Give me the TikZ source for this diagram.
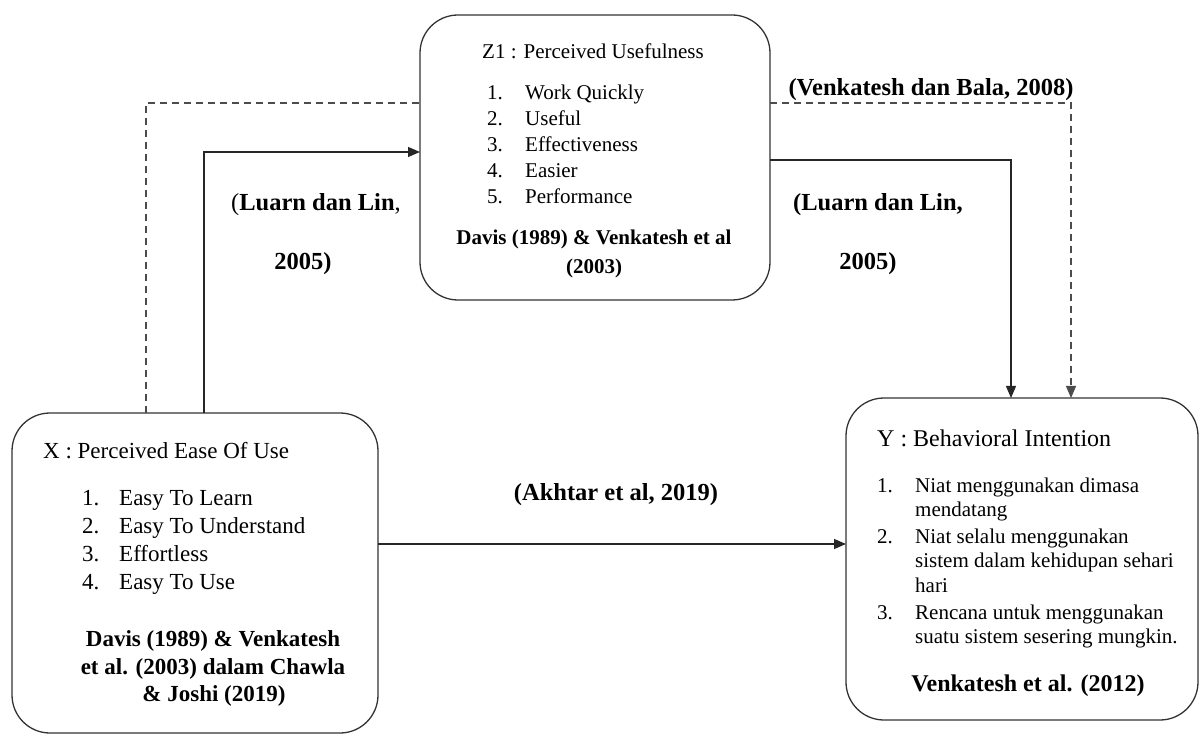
\documentclass[tikz,border=0pt]{standalone}
\usepackage{fontspec}
\setmainfont{Liberation Serif}
\usetikzlibrary{arrows.meta}
\begin{document}
\begin{tikzpicture}[x=1pt,y=-1pt,
  box/.style={draw=black!80, line width=1.3pt, rounded corners=38pt, inner sep=0pt, outer sep=0pt},
  conn/.style={draw=black!85, line width=1.2pt},
  arr/.style={-{Triangle[length=12pt,width=10pt]}},
  dline/.style={draw=black!70, line width=1.1pt, dash pattern=on 7pt off 5pt},
  tl/.style={inner sep=0pt, anchor=base west},
  tc/.style={inner sep=0pt, anchor=base},
  fa/.style={font=\fontsize{21}{25}\selectfont},
  fb/.style={font=\fontsize{23}{27}\selectfont},
  fc/.style={font=\fontsize{24}{28}\selectfont},
  lab/.style={inner sep=0pt, anchor=base, font=\fontsize{24.5}{28}\selectfont\bfseries}
]
\useasboundingbox (0,0) rectangle (1200,735);

% boxes
\node[box, minimum width=350pt, minimum height=285pt] (Z) at (595,157.5) {};
\node[box, minimum width=366pt, minimum height=320pt] (X) at (195,573) {};
\node[box, minimum width=352pt, minimum height=322pt] (Y) at (1022,559) {};

% Z1 texts
\node[tc,fa] (zt) at (593,59) {Z1 : Perceived Usefulness};
\node[tl,fa] (zn1) at (487,100) {1.};
\node[tl,fa] (zi1) at (525,100) {Work Quickly};
\node[tl,fa] (zn2) at (487,126) {2.};
\node[tl,fa] (zi2) at (525,126) {Useful};
\node[tl,fa] (zn3) at (487,152) {3.};
\node[tl,fa] (zi3) at (525,152) {Effectiveness};
\node[tl,fa] (zn4) at (487,178) {4.};
\node[tl,fa] (zi4) at (525,178) {Easier};
\node[tl,fa] (zn5) at (487,204) {5.};
\node[tl,fa] (zi5) at (525,204) {Performance};
\node[tc,fa,font=\fontsize{21}{25}\selectfont\bfseries] (zc1) at (594,245) {Davis (1989) \& Venkatesh et al};
\node[tc,fa,font=\fontsize{21}{25}\selectfont\bfseries] (zc2) at (594,274) {(2003)};

% X texts
\node[tl,fb] (xt) at (43,458) {X : Perceived Ease Of Use};
\node[tl,fb] (xn1) at (82,505) {1.};
\node[tl,fb] (xi1) at (119,505) {Easy To Learn};
\node[tl,fb] (xn2) at (82,533) {2.};
\node[tl,fb] (xi2) at (119,533) {Easy To Understand};
\node[tl,fb] (xn3) at (82,561) {3.};
\node[tl,fb] (xi3) at (119,561) {Effortless};
\node[tl,fb] (xn4) at (82,589) {4.};
\node[tl,fb] (xi4) at (119,589) {Easy To Use};
\node[tc,font=\fontsize{23}{27}\selectfont\bfseries] (xc1) at (213,646) {Davis (1989) \& Venkatesh};
\node[tc,font=\fontsize{23}{27}\selectfont\bfseries] (xc2) at (213,674) {et al. (2003) dalam Chawla};
\node[tc,font=\fontsize{23}{27}\selectfont\bfseries] (xc3) at (214,701) {\& Joshi (2019)};

% Y texts
\node[tl,fc] (yt) at (877,446) {Y : Behavioral Intention};
\node[tl,fa] (yn1) at (877,492) {1.};
\node[tl,fa] (yi1a) at (915,492) {Niat menggunakan dimasa};
\node[tl,fa] (yi1b) at (915,516) {mendatang};
\node[tl,fa] (yn2) at (877,543) {2.};
\node[tl,fa] (yi2a) at (915,543) {Niat selalu menggunakan};
\node[tl,fa] (yi2b) at (915,567) {sistem dalam kehidupan sehari};
\node[tl,fa] (yi2c) at (915,592) {hari};
\node[tl,fa] (yn3) at (877,619) {3.};
\node[tl,fa] (yi3a) at (915,619) {Rencana untuk menggunakan};
\node[tl,fa] (yi3b) at (915,643) {suatu sistem sesering mungkin.};
\node[tc,font=\fontsize{24}{28}\selectfont\bfseries] (yc) at (1028,691) {Venkatesh et al. (2012)};

% connector labels
\node[lab] (l1a) at (316,211) {{\mdseries(}Luarn dan Lin{\mdseries,}};
\node[lab] (l1b) at (303,270) {2005)};
\node[lab] (l2a) at (878,211) {(Luarn dan Lin,};
\node[lab] (l2b) at (868,270) {2005)};
\node[lab] (l3) at (931,96) {(Venkatesh dan Bala, 2008)};
\node[lab] (l4) at (616,500) {(Akhtar et al, 2019)};

% corner coordinates
\coordinate (d1) at (146,103);
\coordinate (d2) at (1071,103);
\coordinate (s1) at (204,152);
\coordinate (s2) at (1011,160);

% connectors
\draw[dline] (X.north -| d1) -- (d1) -- (Z.west |- d1);
\draw[dline,arr] (Z.east |- d2) -- (d2) -- (Y.north -| d2);
\draw[conn,arr] (X.north -| s1) -- (s1) -- (Z.west |- s1);
\draw[conn,arr] (Z.east |- s2) -- (s2) -- (Y.north -| s2);
\draw[conn,arr] (X.east |- 0,544) -- (Y.west |- 0,544);
\end{tikzpicture}
\end{document}
